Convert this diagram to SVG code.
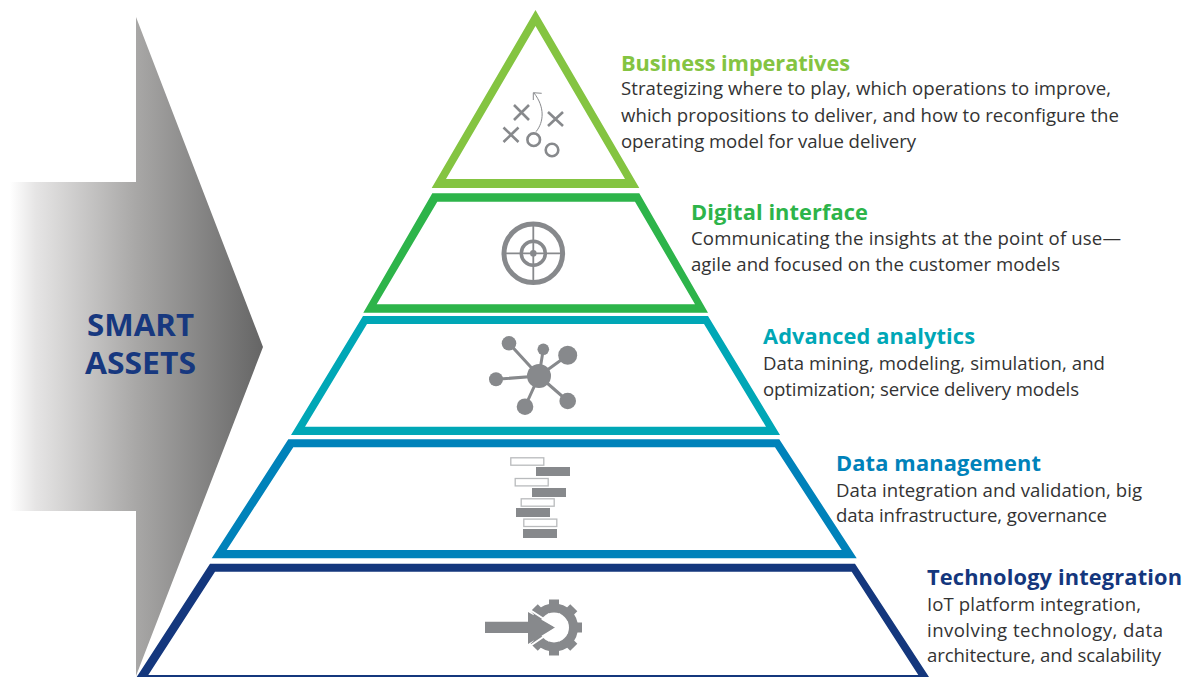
<svg xmlns="http://www.w3.org/2000/svg" width="1198" height="677" viewBox="0 0 1198 677">
<style>
text{font-family:"Open Sans","Noto Sans","Liberation Sans",sans-serif}
.h{font-size:21.8px;font-weight:700}
.b{font-size:18.600px;font-weight:400;fill:#333}
.s{font-size:31px;font-weight:700;fill:#17387f}
.ic{fill:#87898c;stroke:none}
.x{fill:none;stroke:#87898c;stroke-width:2.6}
.l{fill:none;stroke:#87898c;stroke-width:3}
.w{fill:#fff;stroke:#b9bbbd;stroke-width:1.3}
</style>
<defs>
<linearGradient id="ag" gradientUnits="userSpaceOnUse" x1="10" y1="0" x2="263" y2="0">
<stop offset="0" stop-color="#fff"/><stop offset=".1" stop-color="#e6e5e5"/><stop offset=".5" stop-color="#a8a7a6"/><stop offset="1" stop-color="#656565"/>
</linearGradient>
</defs>
<g id="smart-assets">
<polygon points="136,17 136,182 10,182 10,511 136,511 136,676 263,347" fill="url(#ag)"/>
<text class="s" x="87" y="336" textLength="107" lengthAdjust="spacingAndGlyphs">SMART</text>
<text class="s" x="85" y="374" textLength="111" lengthAdjust="spacingAndGlyphs">ASSETS</text>
</g>
<g id="business-imperatives">
<path fill="#84c441" fill-rule="evenodd" d="M535.5 10L639.3 188H431.7ZM535.5 26L446 179H625Z"/>
<g class="x"><path d="M514 105L529 120M529 105L514 120M548 112L563 126M563 112L548 126M503.500 127.500L518.500 142M518.500 127.500L503.500 142"/><circle cx="533.700" cy="139.700" r="6.300"/><circle cx="552" cy="150" r="6.300"/></g>
<path fill="none" stroke="#87898c" stroke-width="1" d="M536 131.700C544 122 545 107 534 93M533.300 100L533.300 92.700L541.700 93.300"/>
<text class="h" x="621" y="71" fill="#84c441" textLength="229">Business imperatives</text>
<text class="b" x="621" y="95" textLength="490">Strategizing where to play, which operations to improve,</text>
<text class="b" x="621" y="122" textLength="498">which propositions to deliver, and how to reconfigure the</text>
<text class="b" x="621" y="148" textLength="295">operating model for value delivery</text>
</g>
<g id="digital-interface">
<path fill="#2db44a" fill-rule="evenodd" d="M432.300 193.300H639.300L708 312.700H363.300ZM437.300 201.700L376.700 304.300H695L635 201.700Z"/>
<circle cx="533.300" cy="253.300" r="29.300" fill="none" stroke="#87898c" stroke-width="5"/>
<circle cx="533.300" cy="253.300" r="12" fill="none" stroke="#87898c" stroke-width="3.500"/>
<circle class="ic" cx="533.300" cy="253.300" r="3.300"/>
<path fill="none" stroke="#87898c" stroke-width="1.800" d="M533.300 224V283M504 253.300H563"/>
<text class="h" x="691" y="220" fill="#2db44a" textLength="177">Digital interface</text>
<text class="b" x="691" y="245" textLength="430">Communicating the insights at the point of use—</text>
<text class="b" x="691" y="271" textLength="369">agile and focused on the customer models</text>
</g>
<g id="advanced-analytics">
<path fill="#00a7b6" fill-rule="evenodd" d="M363 316H708L780 435H291ZM367 324L305 426.700H766L704 324Z"/>
<path class="l" d="M539 376L509 343.300M539 376L543.300 349.300M539 376L567.700 355.300M539 376L496 379.300M539 376L525 406.700M539 376L567.700 401"/>
<g class="ic"><circle cx="539" cy="376" r="12"/><circle cx="509" cy="343.300" r="7.300"/><circle cx="543.300" cy="349.300" r="5.800"/><circle cx="567.700" cy="355.300" r="9.500"/><circle cx="496" cy="379.300" r="7"/><circle cx="525" cy="406.700" r="8.300"/><circle cx="567.700" cy="401" r="8.300"/></g>
<text class="h" x="763" y="344" fill="#00a7b6" textLength="212">Advanced analytics</text>
<text class="b" x="763" y="370" textLength="342">Data mining, modeling, simulation, and</text>
<text class="b" x="763" y="396" textLength="316">optimization; service delivery models</text>
</g>
<g id="data-management">
<path fill="#0082ba" fill-rule="evenodd" d="M288.300 439.300H779.300L856.700 558.300H211.700ZM293.300 447.300L226.700 550H841.700L775 447.300Z"/>
<rect class="w" x="510.800" y="457.800" width="33" height="7.400"/>
<rect class="ic" x="536" y="467" width="34" height="9"/>
<rect class="w" x="515.200" y="478.500" width="33" height="7.400"/>
<rect class="ic" x="532" y="488" width="34" height="9"/>
<rect class="w" x="521.200" y="498.800" width="33" height="7.400"/>
<rect class="ic" x="516" y="508" width="34" height="9"/>
<rect class="w" x="523.800" y="519.100" width="33" height="7.400"/>
<rect class="ic" x="523" y="529" width="34" height="9"/>
<text class="h" x="836" y="471" fill="#0082ba" textLength="205">Data management</text>
<text class="b" x="836" y="497" textLength="306">Data integration and validation, big</text>
<text class="b" x="836" y="522" textLength="271">data infrastructure, governance</text>
</g>
<g id="technology-integration">
<path fill="#14377d" fill-rule="evenodd" d="M210 563.700H855L929 677H136.700ZM215 571.700L148.300 675H918.300L851.700 571.700Z"/>
<circle cx="554" cy="627.500" r="19.500" fill="none" stroke="#87898c" stroke-width="9"/>
<g class="ic"><rect x="549" y="599.500" width="10" height="56"/><rect x="549" y="599.500" width="10" height="56" transform="rotate(45 554 627.500)"/><rect x="549" y="599.500" width="10" height="56" transform="rotate(90 554 627.500)"/><rect x="549" y="599.500" width="10" height="56" transform="rotate(135 554 627.500)"/></g>
<circle cx="554" cy="627.500" r="15" fill="#fff"/>
<polygon points="485,621.700 528,621.700 528,612 555,627.500 528,644 528,633 485,633" fill="#87898c"/>
<path d="M530 610L557 627.500L530 646" fill="none" stroke="#fff" stroke-width="2"/>
<text class="h" x="927" y="585" fill="#14377d" textLength="255">Technology integration</text>
<text class="b" x="927" y="611" textLength="214">IoT platform integration,</text>
<text class="b" x="927" y="637" textLength="236">involving technology, data</text>
<text class="b" x="927" y="662" textLength="234">architecture, and scalability</text>
</g>
</svg>
